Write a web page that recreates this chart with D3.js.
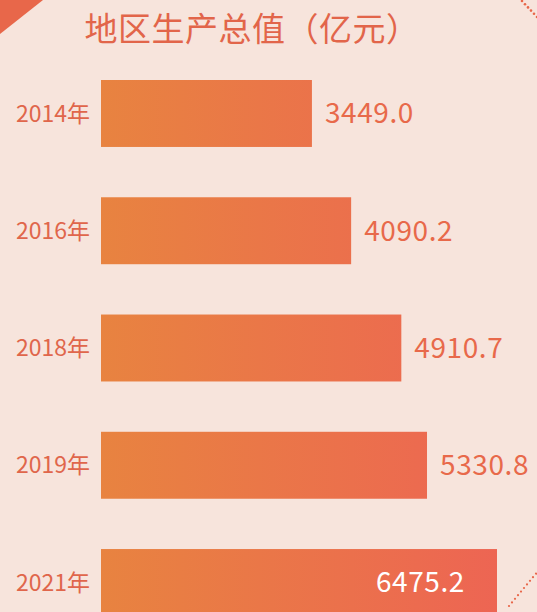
<!DOCTYPE html>
<html>
<head>
<meta charset="utf-8">
<script src="https://cdn.jsdelivr.net/npm/d3@7"></script>
<style>
  html, body { margin: 0; padding: 0; background: #f7e4dc; }
  svg { display: block; }
</style>
</head>
<body>
<script>
// DATA
var years = ["2014年", "2016年", "2018年", "2019年", "2021年"];
var gdp = [3449.0, 4090.2, 4910.7, 5330.8, 6475.2];
var title = "地区生产总值（亿元）";

var W = 537, H = 612;
var svg = d3.select("body").append("svg")
    .attr("width", W)
    .attr("height", H);

svg.append("rect").attr("width", W).attr("height", H).attr("fill", "#f7e4dc");

// corner decorations
svg.append("path").attr("d", "M0,0 L43,0 L0,34 Z").attr("fill", "#e8674a");
var dots = svg.append("g").attr("fill", "#e8674a");
d3.range(0, 6).forEach(function(i) {
    dots.append("circle").attr("cx", 522 + i * 3).attr("cy", 1 + i * 3.2).attr("r", 1.3);
});
d3.range(0, 10).forEach(function(i) {
    dots.append("circle").attr("cx", 509 + i * 3).attr("cy", 606 - i * 3.6).attr("r", 1.1);
});

const margin = {left: 101};

// scales
const xScale = d3.scaleLinear()
    .domain([0, d3.max(gdp)])
    .range([0, 396]);

const yScale = d3.scaleBand()
    .domain(years)
    .range([80, 616])
    .paddingInner(0.429)
    .paddingOuter(0);

var defs = svg.append("defs");
var grad = defs.append("linearGradient")
    .attr("id", "barGrad")
    .attr("gradientUnits", "userSpaceOnUse")
    .attr("x1", margin.left).attr("x2", margin.left + 396)
    .attr("y1", 0).attr("y2", 0);
grad.append("stop").attr("offset", "0%").attr("stop-color", "#e88340");
grad.append("stop").attr("offset", "100%").attr("stop-color", "#ed6553");

// title
svg.append("text")
    .attr("x", 252)
    .attr("y", 41)
    .attr("text-anchor", "middle")
    .attr("font-family", "'Noto Sans CJK SC', sans-serif")
    .attr("font-size", 33)
    .attr("letter-spacing", 0.5)
    .attr("font-weight", 400)
    .attr("fill", "#e2654a")
    .text(title);

var rows = years.map(function(y, i) { return {year: y, value: gdp[i]}; });

var g = svg.append("g");

g.selectAll("rect.bar").data(rows)
    .enter()
    .append("rect")
    .attr("class", "bar")
    .attr("x", margin.left)
    .attr("y", d => yScale(d.year))
    .attr("width", d => xScale(d.value))
    .attr("height", yScale.bandwidth())
    .attr("fill", "url(#barGrad)");

// y labels
g.selectAll("text.year").data(rows)
    .enter()
    .append("text")
    .attr("class", "year")
    .attr("x", 90)
    .attr("y", d => yScale(d.year) + yScale.bandwidth() / 2)
    .attr("dy", "0.35em")
    .attr("text-anchor", "end")
    .attr("font-family", "'Noto Sans CJK SC', sans-serif")
    .attr("font-size", 23)
    .attr("fill", "#e0664b")
    .text(d => d.year);

// value labels
var maxV = d3.max(gdp);
g.selectAll("text.val").data(rows)
    .enter()
    .append("text")
    .attr("class", "val")
    .attr("x", d => d.value === maxV ? margin.left + xScale(d.value) - 32 : margin.left + xScale(d.value) + 13)
    .attr("y", d => yScale(d.year) + yScale.bandwidth() / 2)
    .attr("dy", "0.35em")
    .attr("text-anchor", d => d.value === maxV ? "end" : "start")
    .attr("font-family", "'Noto Sans CJK SC', sans-serif")
    .attr("font-size", 28)
    .attr("letter-spacing", 0.6)
    .attr("fill", d => d.value === maxV ? "#ffffff" : "#e8694a")
    .text(d => d.value.toFixed(1));
</script>
</body>
</html>
